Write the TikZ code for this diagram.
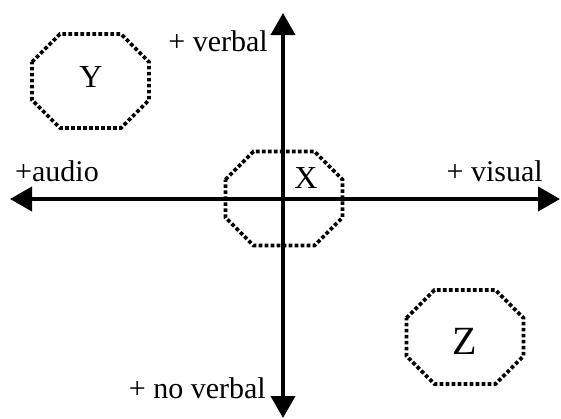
\documentclass[tikz,border=0pt]{standalone}
\usepackage{fontspec}
\setmainfont{Liberation Serif}
\usetikzlibrary{
  arrows.meta,
  positioning
}
\tikzset{
  axis/.style={
    {Triangle[length=22pt, width=24pt]}-{Triangle[length=22pt, width=24pt]},
    line width=4pt
  },
  region/.style={
    line width=3.6pt, dash pattern=on 3.6pt off 2.4pt, line join=miter
  },
  axlabel/.style={font=\fontsize{30}{36}\selectfont, inner sep=0pt},
  letter/.style={font=\fontsize{32}{38}\selectfont, inner sep=0pt, anchor=base}
}
\begin{document}
\begin{tikzpicture}[x=1pt, y=-1pt]
  \useasboundingbox (0,0) rectangle (561,418);
  % regions
  \foreach \rg/\cx/\cy in {regY/90.5/81, regX/284/198.5, regZ/465/337}{
    \coordinate (\rg) at (\cx, \cy);
    \draw[region, shift={(\rg)}]
      (-58.5,-19) -- (-30.5,-47) -- (30.5,-47) -- (58.5,-19)
      -- (58.5,19) -- (30.5,47) -- (-30.5,47) -- (-58.5,19) -- cycle;
  }
  \node[letter] (labY) at (91, 87) {Y};
  \node[letter] (labX) at (306, 188) {X};
  \node[letter, font=\fontsize{40}{46}\selectfont] (labZ) at (465, 354) {Z};
  % axes
  \coordinate (west) at (10, 199);
  \coordinate (east) at (560, 199);
  \coordinate (north) at (283, 13);
  \coordinate (south) at (283, 418);
  \draw[axis] (west) -- (east);
  \draw[axis] (south) -- (north);
  \node[axlabel, anchor=base east] (verbal) at (268, 51) {+ verbal};
  \node[axlabel, anchor=base west] (audio) at (15, 181) {+audio};
  \node[axlabel, anchor=base east] (visual) at (543, 181) {+ visual};
  \node[axlabel, anchor=base east] (noverbal) at (266, 398) {+ no verbal};
\end{tikzpicture}
\end{document}
